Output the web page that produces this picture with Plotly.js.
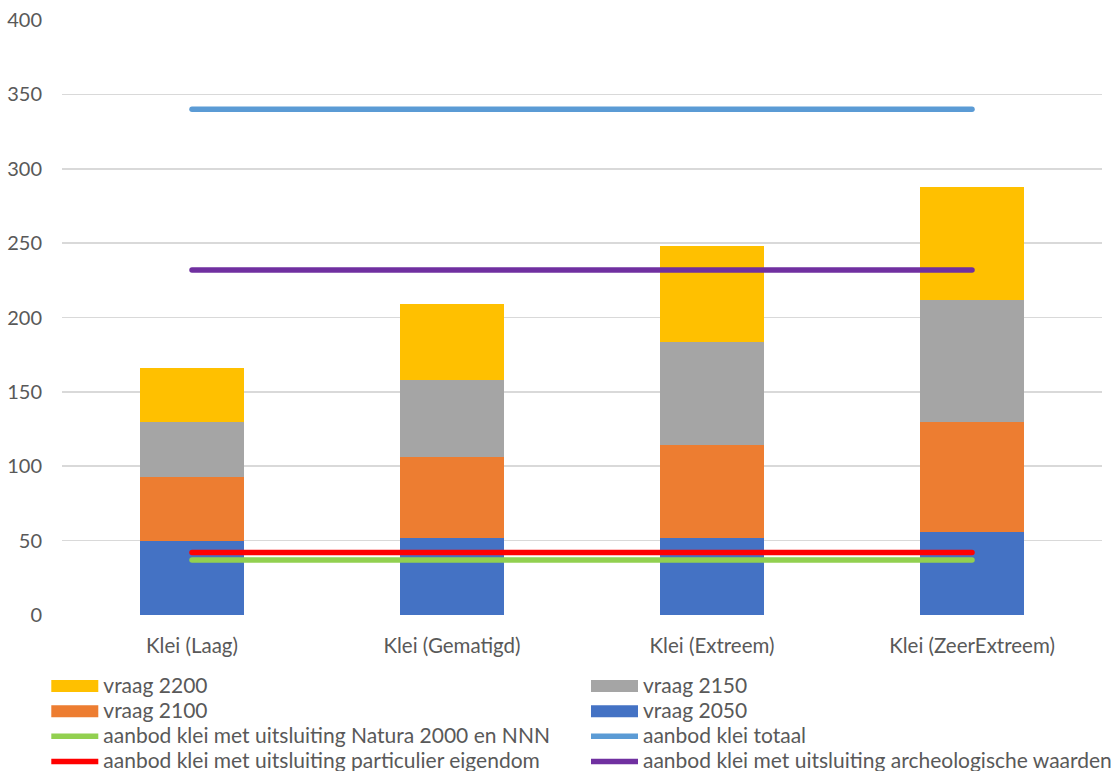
<!DOCTYPE html>
<html>
<head>
<meta charset="utf-8">
<script src="https://cdn.plot.ly/plotly-3.0.1.min.js"></script>
<style>html,body{margin:0;padding:0;background:#fff;}#chart{width:1117px;height:771px;}</style>
</head>
<body>
<div id="chart"></div>
<script>
const categories = ["Klei (Laag)", "Klei (Gematigd)", "Klei (Extreem)", "Klei (ZeerExtreem)"];
const vraag2050 = [50, 52, 52, 55.5];
const vraag2100 = [43, 54, 62.5, 74.5];
const vraag2150 = [37, 52, 69, 82];
const vraag2200 = [36, 51, 64.5, 76];
const aanbodNatura = [37, 37, 37, 37];
const aanbodTotaal = [340, 340, 340, 340];
const aanbodParticulier = [42, 42, 42, 42];
const aanbodArcheologie = [232, 232, 232, 232];
const yTicks = [0, 50, 100, 150, 200, 250, 300, 350, 400];

const label = s => '<span style="font-size:21px">' + s + '</span>';
const bar = (name, y, color, leg, rank) => ({
  type: 'bar', name: label(name), x: categories, y, marker: {color}, legend: leg, legendrank: rank, hoverinfo: 'y'
});
const line = (name, y, color, leg, rank) => ({
  type: 'scatter', mode: 'lines', name: label(name), x: categories, y, line: {color, width: 5.5}, legend: leg, legendrank: rank
});

const data = [
  bar('vraag 2050', vraag2050, '#4472C4', 'legend2', 2),
  bar('vraag 2100', vraag2100, '#ED7D31', 'legend', 2),
  bar('vraag 2150', vraag2150, '#A5A5A5', 'legend2', 1),
  bar('vraag 2200', vraag2200, '#FFC000', 'legend', 1),
  line('aanbod klei met uitsluiting Natura 2000 en NNN', aanbodNatura, '#92D050', 'legend', 3),
  line('aanbod klei totaal', aanbodTotaal, '#5B9BD5', 'legend2', 3),
  line('aanbod klei met uitsluiting particulier eigendom', aanbodParticulier, '#FF0000', 'legend', 4),
  line('aanbod klei met uitsluiting archeologische waarden', aanbodArcheologie, '#7030A0', 'legend2', 4)
];

const font = {family: 'Lato, "Open Sans", sans-serif', size: 20, color: '#595959'};
const xFont = {family: 'Lato, "Open Sans", sans-serif', size: 20.5, color: '#595959'};
const legFont = {family: 'Lato, "Open Sans", sans-serif', size: 17, color: '#595959'};
const legendBase = {
  orientation: 'v', xref: 'paper', yref: 'container', xanchor: 'left', yanchor: 'top',
  y: 0.1329, itemwidth: 47, font: legFont, traceorder: 'normal', itemclick: false,
  bgcolor: 'rgba(0,0,0,0)', borderwidth: 0
};
const layout = {
  width: 1117, height: 771,
  margin: {l: 62, r: 15, t: 20, b: 156},
  paper_bgcolor: '#fff', plot_bgcolor: '#fff',
  barmode: 'stack', bargap: 0.6,
  font: font,
  showlegend: true,
  legend: Object.assign({}, legendBase, {x: -0.0151}),
  legend2: Object.assign({}, legendBase, {x: 0.5058}),
  xaxis: {
    type: 'category', showgrid: false, zeroline: false, showline: false,
    ticks: '', tickfont: xFont, ticklabelstandoff: 16
  },
  yaxis: {
    range: [0, 400], tickvals: yTicks, showgrid: true, gridcolor: '#d9d9d9', gridwidth: 1.6,
    zeroline: false, showline: false, ticks: '', tickfont: font, ticklabelstandoff: 19
  }
};

Plotly.newPlot('chart', data, layout, {displayModeBar: false, staticPlot: true}).then(gd => {
  gd.querySelectorAll('g.legendpoints path').forEach(p => {
    const d = p.getAttribute('d') || '';
    if (d.indexOf('M6,6H-6V-6H6Z') === 0) p.setAttribute('d', 'M23.5,6H-23.5V-6H23.5Z');
  });
  gd.querySelectorAll('.scatterlayer path.js-line, g.legendpoints path.js-line').forEach(p => p.style.strokeLinecap = 'round');
});
</script>
</body>
</html>
